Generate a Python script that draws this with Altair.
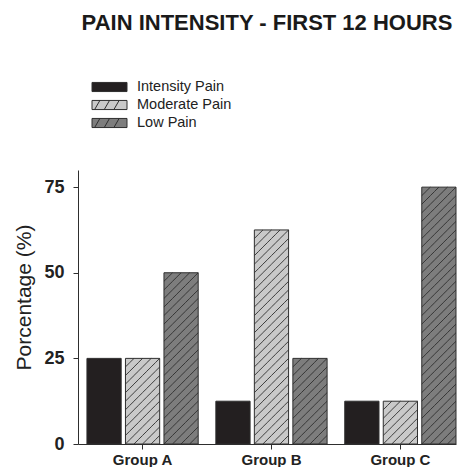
import json
import altair as alt
import pandas as pd

# ---------------- data ----------------
groups = ["Group A", "Group B", "Group C"]
series = ["Intensity Pain", "Moderate Pain", "Low Pain"]
intensity_pain = [25, 12.5, 12.5]
moderate_pain = [25, 62.5, 12.5]
low_pain = [50, 25, 75]
y_ticks = [0, 25, 50, 75]
title_text = "PAIN INTENSITY - FIRST 12 HOURS"
y_title = "Porcentage (%)"

# ---------------- styles ----------------
fills = ["#231f20", "#c9c9c9", "#7d7d7d"]
FONT = "Liberation Sans"
INK = "#222222"
EDGE = "#2e2e2e"

TOTAL_W, TOTAL_H = 450, 459
PLOT_W, PLOT_H = 380, 270        # approximate plot size (used for hatch glyph size)
Y_MAX = 80
ROW_UNIT = 1.25                  # hatch cell height in data units
N_COLS = 8                       # hatch cells per bar (one cell of gap between bars)
PAD_IN_G, PAD_OUT_G = 0.137, 0.0347

n_sub = len(series) * (N_COLS + 1) - 1
step = PLOT_W / (len(groups) - PAD_IN_G + 2 * PAD_OUT_G)
col_px = step * (1 - PAD_IN_G) / n_sub
row_px = ROW_UNIT * PLOT_H / Y_MAX
side = max(col_px, row_px)
hx, hy = col_px / side, row_px / side
HATCH_PATH = f"M{-hx:.4f},{hy:.4f}L{hx:.4f},{-hy:.4f}"

RECT = "M-1,-0.26H1V0.26H-1Z"
HATCHED = RECT + " M-0.85,0.26L-0.55,-0.26 M-0.3,0.26L0,-0.26 M0.25,0.26L0.55,-0.26"

rows = []
for i, g in enumerate(groups):
    for s, vals in zip(series, [intensity_pain, moderate_pain, low_pain]):
        rows.append({"group": g, "series": s, "value": vals[i]})
df = pd.DataFrame(rows)
leg_df = pd.DataFrame({"series": series})

x_scale = alt.Scale(domain=groups, paddingInner=PAD_IN_G, paddingOuter=PAD_OUT_G, align=1)
y_scale = alt.Scale(domain=[0, Y_MAX], nice=False)
fill_scale = alt.Scale(domain=series, range=fills)

x_axis = alt.Axis(labelAngle=0, labelFont=FONT, labelFontSize=15, labelFontWeight="bold",
                  labelColor=INK, tickSize=5, tickColor=EDGE, domainColor=EDGE,
                  labelPadding=3, grid=False, title=None)
y_axis = alt.Axis(values=y_ticks, title=y_title, titleFont=FONT, titleFontSize=21,
                  titleFontWeight="normal", titleColor=INK, labelFont=FONT, labelFontSize=18,
                  labelFontWeight="bold", labelColor=INK, tickSize=5, tickColor=EDGE,
                  domainColor=EDGE, grid=False, labelPadding=9, titlePadding=9, titleY=127)

bars = alt.Chart(df).mark_bar(stroke=EDGE, strokeWidth=1).encode(
    x=alt.X("group:N", sort=groups, scale=x_scale, axis=x_axis),
    xOffset=alt.XOffset("series:N", sort=series,
                        scale=alt.Scale(domain=series, paddingInner=1 / (N_COLS + 1),
                                        paddingOuter=0)),
    y=alt.Y("value:Q", scale=y_scale, axis=y_axis),
    fill=alt.Fill("series:N", scale=fill_scale, legend=None),
)

hatch = (
    alt.Chart(df)
    .transform_filter(f"datum.series != '{series[0]}'")
    .transform_calculate(
        sidx=f"indexof({json.dumps(series)}, datum.series)",
        rws=f"sequence(0, round(datum.value / {ROW_UNIT}))",
        cls=f"sequence(0, {N_COLS})",
    )
    .transform_flatten(["rws"], as_=["row"])
    .transform_flatten(["cls"], as_=["col"])
    .transform_filter("(datum.col + datum.row) % 2 == 0")
    .transform_calculate(
        sub=f"datum.sidx * {N_COLS + 1} + datum.col",
        yc=f"(datum.row + 0.5) * {ROW_UNIT}",
    )
    .mark_point(shape=HATCH_PATH, size=side * side, filled=False, stroke=EDGE,
                strokeWidth=0.9, opacity=1)
    .encode(
        x=alt.X("group:N", sort=groups, scale=x_scale, axis=x_axis),
        xOffset=alt.XOffset("sub:O", scale=alt.Scale(type="band", domain=list(range(n_sub)),
                                                     paddingInner=0, paddingOuter=0)),
        y=alt.Y("yc:Q", scale=y_scale, axis=y_axis),
    )
)

leg_y = alt.Y("series:N", sort=series,
              scale=alt.Scale(domain=series, range=[-83, -47], padding=0), axis=None)
swatch = alt.Chart(leg_df).mark_point(filled=True, size=1225, stroke=EDGE,
                                      strokeWidth=1, opacity=1).encode(
    x=alt.value(31.5),
    y=leg_y,
    shape=alt.Shape("series:N", scale=alt.Scale(domain=series, range=[RECT, HATCHED, HATCHED]),
                    legend=None),
    fill=alt.Fill("series:N", scale=fill_scale, legend=None),
)
labels = alt.Chart(leg_df).mark_text(align="left", baseline="middle", fontSize=14.5,
                                     font=FONT, color=INK).encode(
    x=alt.value(59),
    y=leg_y,
    text="series:N",
)

main = alt.layer(bars, hatch).resolve_scale(xOffset="independent")
legend = alt.layer(swatch, labels)

chart = (
    alt.layer(main, legend)
    .resolve_scale(y="independent")
    .properties(
        width=TOTAL_W,
        height=TOTAL_H,
        autosize=alt.AutoSizeParams(type="fit", contains="padding"),
        padding={"left": 5, "top": 4, "right": 0, "bottom": 0},
        title=alt.Title(title_text, font=FONT, fontSize=22, fontWeight="bold",
                        color="#1a1a1a", anchor="middle", frame="group", offset=44),
    )
    .configure_view(stroke=None)
)

chart.save("out.html", embed_options={"renderer": "svg", "actions": False})
